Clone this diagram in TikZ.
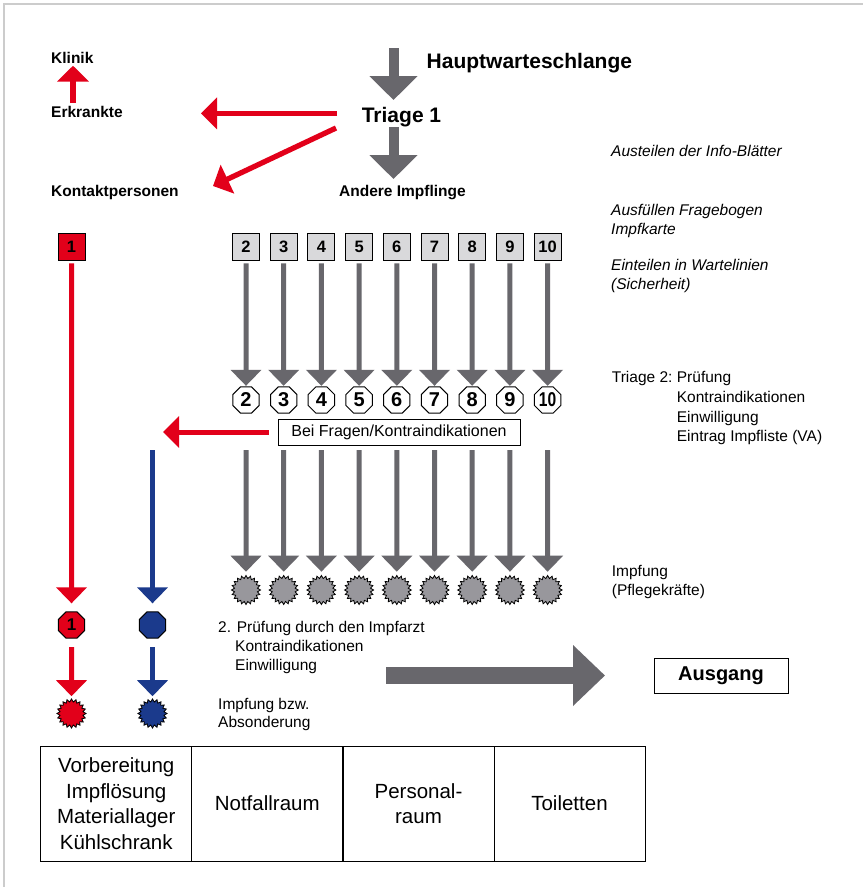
\documentclass[tikz,border=0pt]{standalone}
\usepackage{fontspec}
\setmainfont{Liberation Sans}
\usepackage{graphicx}
\usetikzlibrary{arrows.meta,shapes.geometric}
\definecolor{ired}{HTML}{E2001A}
\definecolor{igray}{HTML}{68676C}
\definecolor{iblue}{HTML}{1B3A8C}
\definecolor{isq}{HTML}{D9D9DB}
\definecolor{istar}{HTML}{98979C}
\definecolor{iframe}{HTML}{CCCCCC}
\newcommand\lanelabel[1]{\ifnum#1>9 \scalebox{0.78}[1]{#1}\else #1\fi}
\tikzset{
  txt/.style={inner sep=0pt, anchor=west, text height=11.1pt, text depth=0pt, font=\fontsize{15.5}{18}\selectfont},
  itxt/.style={txt, font=\itshape\fontsize{15.5}{18}\selectfont},
  btxt/.style={txt, font=\bfseries\fontsize{15.5}{18}\selectfont},
  bigtxt/.style={inner sep=0pt, anchor=west, text height=15pt, text depth=0pt, font=\bfseries\fontsize{21}{24}\selectfont},
  sqbox/.style={draw=black, line width=0.9pt, minimum size=27pt, inner sep=0pt, font=\bfseries\fontsize{16.5}{18}\selectfont},
  octa/.style={regular polygon, regular polygon sides=8, draw=black, line width=1pt, minimum size=28.5pt, inner sep=0pt, font=\bfseries\fontsize{20}{22}\selectfont},
  burst/.style={star, star points=20, star point ratio=1.25, draw=black, line width=0.8pt, minimum size=29pt, inner sep=0pt},
  lanearr/.style={line width=5pt, -{Triangle[width=30pt,length=16pt]}},
  bigarr/.style={draw=igray, line width=10pt, -{Triangle[width=47pt,length=24pt]}},
  redarr/.style={draw=ired, line width=5.3pt, -{Triangle[width=31pt,length=16pt]}},
  cell/.style={draw=black, line width=1pt, minimum width=151pt, minimum height=115pt, inner sep=0pt, align=center, font=\fontsize{20.5}{25.5}\selectfont},
}
\begin{document}
\begin{tikzpicture}[x=1pt,y=-1pt]
\useasboundingbox (0,0) rectangle (863,887);
\fill[white] (0,0) rectangle (863,887);
% frame
\draw[iframe, line width=1.8pt] (4.3,887) -- (4.3,4.3) -- (863,4.3);

% ---- top area ----
\node[btxt] (klinik) at (51,57.5) {Klinik};
\node[btxt] (erk) at (51,111.7) {Erkrankte};
\node[btxt] (kontakt) at (51,191) {Kontaktpersonen};
\node[btxt, anchor=center] (andere) at (402.5,191) {Andere Impflinge};
\node[bigtxt] (haupt) at (426.5,60.7) {Hauptwarteschlange};
\node[bigtxt, anchor=center] (t1) at (401.5,114.5) {Triage 1};

\coordinate (hwtop) at (393.5,48);
\coordinate (hwtip) at (393.5,100);
\coordinate (t1bot) at (393.5,127);
\coordinate (anderetip) at (393.5,179);
\draw[bigarr] (hwtop) -- (hwtip);
\draw[bigarr] (t1bot) -- (anderetip);

\coordinate (erkstart) at (337,113.3);
\coordinate (erktip) at (201,113.3);
\draw[redarr] (erkstart) -- (erktip);
\coordinate (konstart) at (336,128);
\coordinate (kontip) at (213,186);
\draw[redarr] (konstart) -- (kontip);
\coordinate (klinstart) at (73,103);
\coordinate (klintip) at (73,65.7);
\draw[redarr] (klinstart) -- (klintip);

% ---- right column texts ----
\node[itxt] (t_aus) at (611,151) {Austeilen der Info-Blätter};
\node[itxt] (t_fb1) at (611,210) {Ausfüllen Fragebogen};
\node[itxt] (t_fb2) at (611,229) {Impfkarte};
\node[itxt] (t_ein1) at (611,265) {Einteilen in Wartelinien};
\node[itxt] (t_ein2) at (611,284) {(Sicherheit)};
\node[txt] (t_tr2) at (611.7,377) {Triage 2:};
\node[txt] (t_tr2a) at (676.7,377) {Prüfung};
\node[txt] (t_tr2b) at (676.7,397) {Kontraindikationen};
\node[txt] (t_tr2c) at (676.7,416.5) {Einwilligung};
\node[txt] (t_tr2d) at (676.7,436) {Eintrag Impfliste (VA)};
\node[txt] (t_imp1) at (611.7,571) {Impfung};
\node[txt] (t_imp2) at (611.7,590) {(Pflegekräfte)};

% ---- lanes 2..10 ----
\foreach \i in {2,...,10}{
  \pgfmathsetmacro{\lx}{246+37.7*(\i-2)}
  \node[sqbox, fill=isq] (sq\i) at (\lx,246.5) {\i};
  \node[octa, fill=white] (oc\i) at (\lx,400) {\lanelabel{\i}};
  \node[burst, fill=istar] (st\i) at (\lx,590) {};
  \draw[lanearr, draw=igray, shorten <=3pt, shorten >=0.5pt] (sq\i) -- (oc\i);
  \draw[lanearr, draw=igray, shorten <=36.5pt, shorten >=3pt] (oc\i) -- (st\i);
}

% ---- Bei Fragen box ----
\node[draw=black, line width=1pt, minimum width=242pt, minimum height=26pt, inner sep=0pt, font=\fontsize{16}{18}\selectfont] (fragen) at (399,432) {Bei Fragen/Kontraindikationen};
\coordinate (fragentip) at (163,432);
\draw[redarr, line width=5pt, shorten <=9pt] (fragen.west) -- (fragentip);

% ---- red lane ----
\node[sqbox, fill=ired] (sq1) at (71.5,246.5) {1};
\node[octa, fill=ired, font=\bfseries\fontsize{17}{18}\selectfont] (oc1) at (71.5,625) {1};
\node[burst, fill=ired] (st1) at (71.5,713.5) {};
\draw[lanearr, draw=ired, shorten <=3pt, shorten >=8pt] (sq1) -- (oc1);
\draw[lanearr, draw=ired, shorten <=8.5pt, shorten >=2pt] (oc1) -- (st1);

% ---- blue lane ----
\coordinate (bluestart) at (152.5,450);
\node[octa, fill=iblue] (ocb) at (152.5,625) {};
\node[burst, fill=iblue] (stb) at (152.5,713.5) {};
\draw[lanearr, draw=iblue, shorten >=8pt] (bluestart) -- (ocb);
\draw[lanearr, draw=iblue, shorten <=8.5pt, shorten >=2pt] (ocb) -- (stb);

% ---- lower texts ----
\node[txt] (p1) at (218,627) {2. Prüfung durch den Impfarzt};
\node[txt] (p2) at (235,646) {Kontraindikationen};
\node[txt] (p3) at (235,664.5) {Einwilligung};
\node[txt] (ia1) at (218,704) {Impfung bzw.};
\node[txt] (ia2) at (218,722) {Absonderung};

% ---- exit ----
\node[draw=black, line width=1pt, minimum width=134pt, minimum height=35pt, inner sep=0pt, font=\bfseries\fontsize{20}{22}\selectfont] (ausgang) at (721,675.5) {Ausgang};
\coordinate (exstart) at (386,675.5);
\coordinate (extip) at (605,675.5);
\draw[draw=igray, line width=17pt, -{Triangle[width=59pt,length=32pt]}] (exstart) -- (extip);

% ---- rooms ----
\node[cell] (r1) at (116.25,803.5) {Vorbereitung\\Impflösung\\Materiallager\\Kühlschrank};
\node[cell] (r2) at (267.25,803.5) {Notfallraum};
\node[cell] (r3) at (418.5,803.5) {Personal-\\raum};
\node[cell] (r4) at (569.5,803.5) {Toiletten};
\end{tikzpicture}
\end{document}
